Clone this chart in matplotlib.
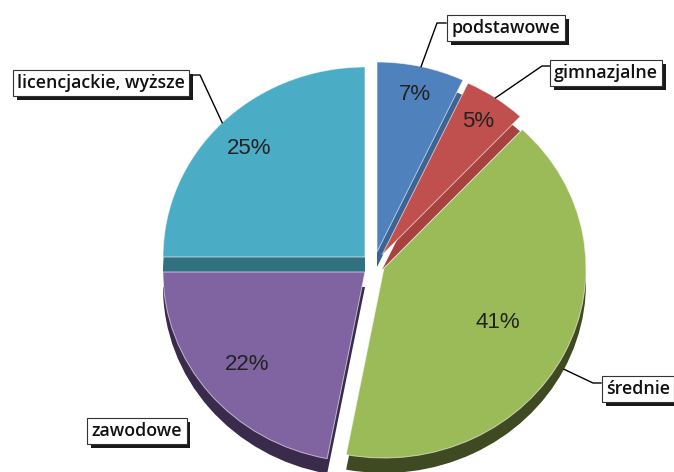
import matplotlib.pyplot as plt
from matplotlib import patheffects
import numpy as np

# education level shares (%)
categories = ["podstawowe", "gimnazjalne", "średnie", "zawodowe", "licencjackie, wyższe"]
shares = [7, 5, 41, 22, 25]

colors = ["#4F81BD", "#C0504D", "#9BBB59", "#8064A2", "#4BACC6"]
side_colors = ["#3B6395", "#A6423F", "#3F4A22", "#3A2B4C", "#31707F"]
# how far each slice is pulled out, pixels (right, down)
shift_px = [(5, -13), (10, -10), (12, 3), (-7, 7), (-7, -8)]
pct_dist = [0.85, 0.85, 0.63, 0.76, 0.81]

W, H = 674, 472
CX, CY = 372, 265      # pie centre, pixels
RX, RY = 202, 190      # radius across / down, pixels
DEPTH = 15 / RY


def px(x, y):
    # pixel position -> data position
    return (x - CX) / RX, (CY - y) / RY


# label boxes and leader lines, in pixels
box_pos = [(506, 28), (606, 73), (638, 389), (137, 431), (101, 83)]
elbows = [[(437, 23), (446, 23)],
          [(542, 66), (550, 66)],
          [(593, 383), (601, 383)],
          None,
          [(200, 75), (193, 75)]]

fig = plt.figure(figsize=(W / 100, H / 100), dpi=100)
ax = fig.add_axes([0, 0, 1, 1])

# side walls: the same pie pushed down
side, _ = ax.pie(shares, colors=side_colors, startangle=90, counterclock=False,
                 wedgeprops=dict(linewidth=0, zorder=1))
wedges, _ = ax.pie(shares, colors=colors, startangle=90, counterclock=False,
                   wedgeprops=dict(edgecolor=(1, 1, 1, 0.6), linewidth=0.7, zorder=2))

for w, s, (dx, dy) in zip(wedges, side, shift_px):
    c = (dx / RX, -dy / RY)
    w.set_center(c)
    s.set_center((c[0], c[1] - DEPTH))

for w, d, s in zip(wedges, pct_dist, shares):
    ang = np.deg2rad((w.theta1 + w.theta2) / 2)
    x = w.center[0] + d * w.r * np.cos(ang)
    y = w.center[1] + d * w.r * np.sin(ang)
    ax.text(x, y, f"{s}%", ha="center", va="center", fontsize=16,
            family="Liberation Sans", color="#222222", zorder=3)

for i, name in enumerate(categories):
    bx, by = px(*box_pos[i])
    t = ax.text(bx, by, name, ha="center", va="center", fontsize=12.8,
                family="Open Sans", fontweight="semibold", color="#111111", zorder=5,
                bbox=dict(boxstyle="square,pad=0.24", fc="white", ec="#333333", lw=0.8))
    t.get_bbox_patch().set_path_effects([
        patheffects.SimplePatchShadow(offset=(2.8, -2.8), shadow_rgbFace="black", alpha=0.9),
        patheffects.Normal()])
    if elbows[i] is None:
        continue
    # anchor on the slice edge (średnie: on its side wall)
    w = side[i] if name == "średnie" else wedges[i]
    ang = np.deg2rad((w.theta1 + w.theta2) / 2)
    ax_, ay_ = w.center[0] + w.r * np.cos(ang), w.center[1] + w.r * np.sin(ang)
    pts = [(ax_, ay_)] + [px(*p) for p in elbows[i]]
    xs, ys = zip(*pts)
    ax.plot(xs, ys, color="black", lw=1, zorder=4)

ax.set_xlim(px(0, 0)[0], px(W, 0)[0])
ax.set_ylim(px(0, H)[1], px(0, 0)[1])
ax.set_aspect("auto")
ax.axis("off")

fig.savefig("out.png", dpi=100)
